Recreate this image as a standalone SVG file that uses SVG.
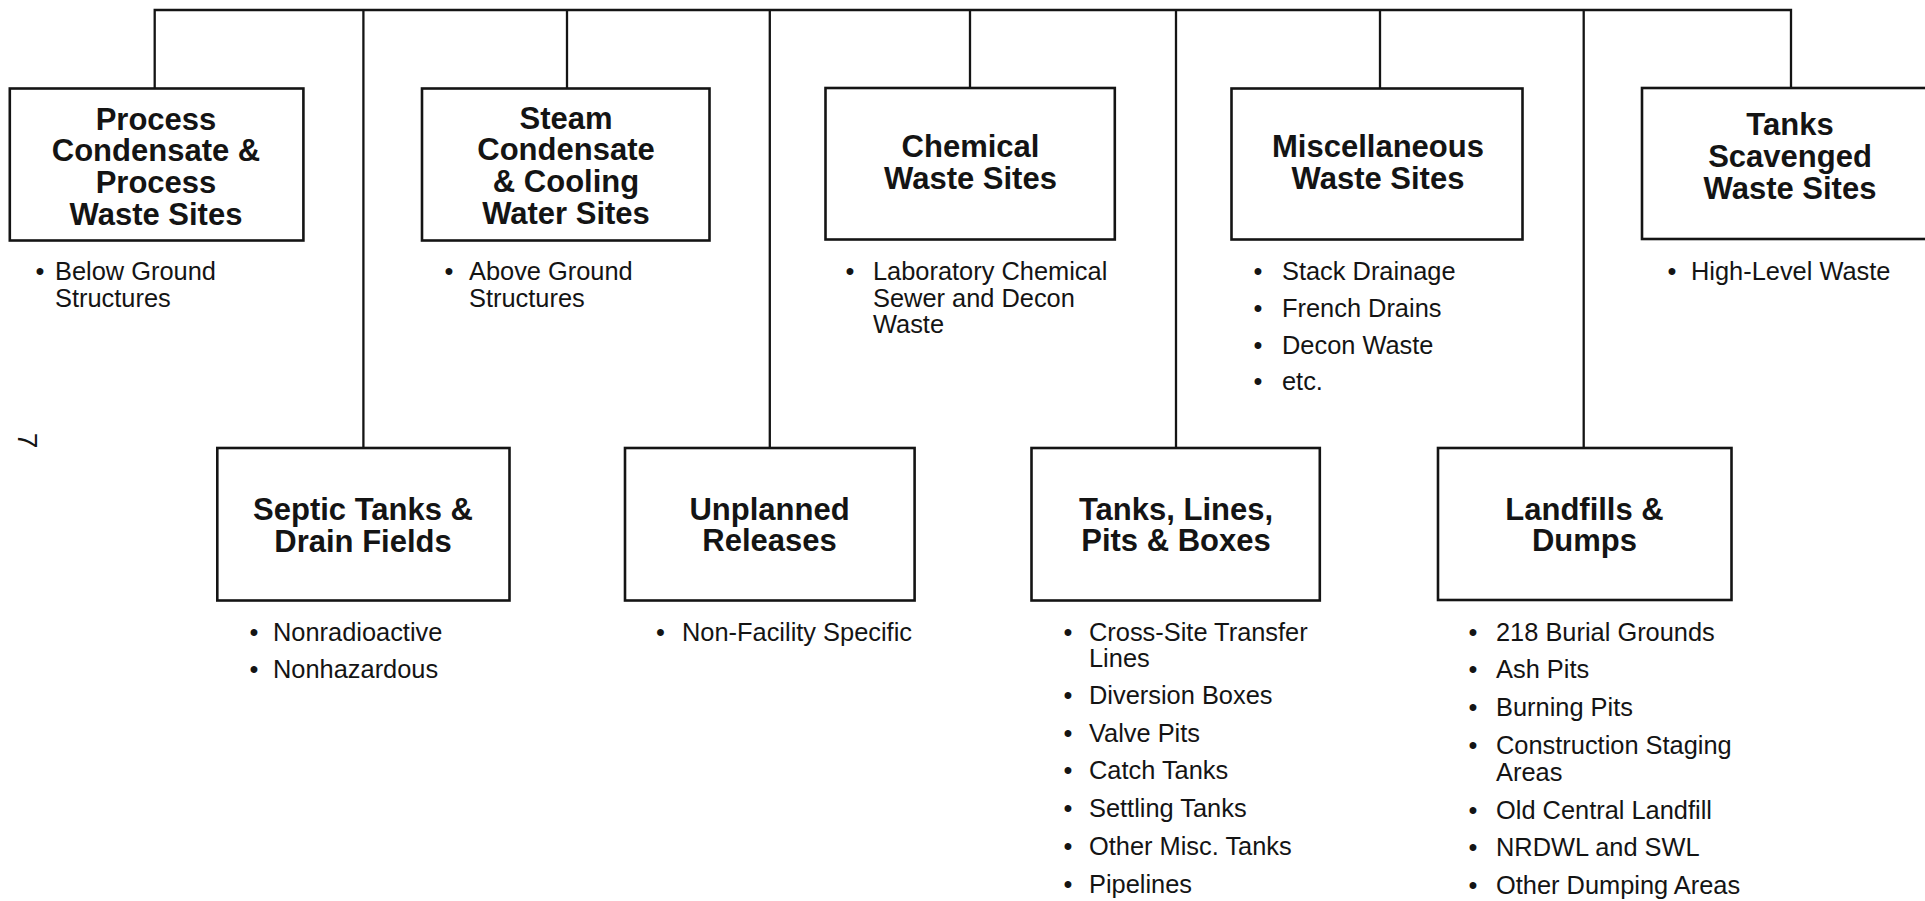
<svg xmlns="http://www.w3.org/2000/svg" width="1925" height="901" viewBox="0 0 1925 901">
<style>
.box{fill:#fff;stroke:#141414;stroke-width:2.6}
.con{fill:none;stroke:#141414;stroke-width:2.3}
.t{font-family:"Liberation Sans",Arial,Helvetica,sans-serif;font-weight:bold;font-size:31px;fill:#141414;text-anchor:middle}
.b{font-family:"Liberation Sans",Arial,Helvetica,sans-serif;font-size:25.4px;fill:#141414}
.d{font-family:"Liberation Sans",Arial,Helvetica,sans-serif;font-size:25.4px;fill:#141414;text-anchor:middle}
</style>
<rect width="1925" height="901" fill="#fff"/>
<g id="connectors">
<path class="con" d="M154.7,88.5 V10 H1791 V88"/>
<path class="con" d="M363.4,10 V448"/>
<path class="con" d="M567,10 V88.5"/>
<path class="con" d="M769.8,10 V448"/>
<path class="con" d="M970,10 V88"/>
<path class="con" d="M1176,10 V448"/>
<path class="con" d="M1380,10 V88.5"/>
<path class="con" d="M1583.7,10 V448"/>
</g>
<g id="process">
<rect class="box" x="9.8" y="88.5" width="293.6" height="152"/>
<text class="t" x="156" y="129.5">Process</text>
<text class="t" x="156" y="161">Condensate &amp;</text>
<text class="t" x="156" y="193">Process</text>
<text class="t" x="156" y="225">Waste Sites</text>
<text class="d" x="40" y="280">•</text>
<text class="b" x="55" y="280">Below Ground</text>
<text class="b" x="55" y="306.5">Structures</text>
</g>
<g id="steam">
<rect class="box" x="422" y="88.5" width="287.5" height="152"/>
<text class="t" x="566" y="128.5">Steam</text>
<text class="t" x="566" y="160">Condensate</text>
<text class="t" x="566" y="191.5">&amp; Cooling</text>
<text class="t" x="566" y="223.5">Water Sites</text>
<text class="d" x="449" y="280">•</text>
<text class="b" x="469" y="280">Above Ground</text>
<text class="b" x="469" y="306.5">Structures</text>
</g>
<g id="chemical">
<rect class="box" x="825.5" y="88" width="289.3" height="151.5"/>
<text class="t" x="970.5" y="157">Chemical</text>
<text class="t" x="970.5" y="188.5">Waste Sites</text>
<text class="d" x="850" y="280">•</text>
<text class="b" x="873" y="280">Laboratory Chemical</text>
<text class="b" x="873" y="306.5">Sewer and Decon</text>
<text class="b" x="873" y="333">Waste</text>
</g>
<g id="misc">
<rect class="box" x="1231.5" y="88.5" width="291" height="151"/>
<text class="t" x="1378" y="157">Miscellaneous</text>
<text class="t" x="1378" y="188.5">Waste Sites</text>
<text class="d" x="1258" y="280">•</text>
<text class="b" x="1282" y="280">Stack Drainage</text>
<text class="d" x="1258" y="317">•</text>
<text class="b" x="1282" y="317">French Drains</text>
<text class="d" x="1258" y="353.5">•</text>
<text class="b" x="1282" y="353.5">Decon Waste</text>
<text class="d" x="1258" y="390">•</text>
<text class="b" x="1282" y="390">etc.</text>
</g>
<g id="tanks-scavenged">
<rect class="box" x="1642" y="88" width="300" height="151"/>
<text class="t" x="1790" y="135">Tanks</text>
<text class="t" x="1790" y="166.5">Scavenged</text>
<text class="t" x="1790" y="198.5">Waste Sites</text>
<text class="d" x="1672" y="280">•</text>
<text class="b" x="1691" y="280">High-Level Waste</text>
</g>
<g id="septic">
<rect class="box" x="217.3" y="448" width="292.2" height="152.5"/>
<text class="t" x="363" y="520">Septic Tanks &amp;</text>
<text class="t" x="363" y="551.5">Drain Fields</text>
<text class="d" x="254" y="641">•</text>
<text class="b" x="273" y="641">Nonradioactive</text>
<text class="d" x="254" y="678">•</text>
<text class="b" x="273" y="678">Nonhazardous</text>
</g>
<g id="unplanned">
<rect class="box" x="625" y="448" width="289.6" height="152.5"/>
<text class="t" x="769.5" y="519.5">Unplanned</text>
<text class="t" x="769.5" y="551">Releases</text>
<text class="d" x="660.5" y="640.5">•</text>
<text class="b" x="682" y="640.5">Non-Facility Specific</text>
</g>
<g id="tanks-lines">
<rect class="box" x="1031.5" y="448" width="288.3" height="152.5"/>
<text class="t" x="1176" y="519.5">Tanks, Lines,</text>
<text class="t" x="1176" y="551">Pits &amp; Boxes</text>
<text class="d" x="1068" y="640.5">•</text>
<text class="b" x="1089" y="640.5">Cross-Site Transfer</text>
<text class="b" x="1089" y="667">Lines</text>
<text class="d" x="1068" y="704">•</text>
<text class="b" x="1089" y="704">Diversion Boxes</text>
<text class="d" x="1068" y="741.5">•</text>
<text class="b" x="1089" y="741.5">Valve Pits</text>
<text class="d" x="1068" y="779">•</text>
<text class="b" x="1089" y="779">Catch Tanks</text>
<text class="d" x="1068" y="817">•</text>
<text class="b" x="1089" y="817">Settling Tanks</text>
<text class="d" x="1068" y="855">•</text>
<text class="b" x="1089" y="855">Other Misc. Tanks</text>
<text class="d" x="1068" y="893">•</text>
<text class="b" x="1089" y="893">Pipelines</text>
</g>
<g id="landfills">
<rect class="box" x="1438" y="448" width="293.5" height="152"/>
<text class="t" x="1584.5" y="519.5">Landfills &amp;</text>
<text class="t" x="1584.5" y="551">Dumps</text>
<text class="d" x="1473" y="640.5">•</text>
<text class="b" x="1496" y="640.5">218 Burial Grounds</text>
<text class="d" x="1473" y="677.5">•</text>
<text class="b" x="1496" y="677.5">Ash Pits</text>
<text class="d" x="1473" y="715.5">•</text>
<text class="b" x="1496" y="715.5">Burning Pits</text>
<text class="d" x="1473" y="754">•</text>
<text class="b" x="1496" y="754">Construction Staging</text>
<text class="b" x="1496" y="780.5">Areas</text>
<text class="d" x="1473" y="818.5">•</text>
<text class="b" x="1496" y="818.5">Old Central Landfill</text>
<text class="d" x="1473" y="856">•</text>
<text class="b" x="1496" y="856">NRDWL and SWL</text>
<text class="d" x="1473" y="894">•</text>
<text class="b" x="1496" y="894">Other Dumping Areas</text>
</g>
<text class="d" transform="translate(18,440.5) rotate(90)" x="0" y="0" style="font-size:28px">7</text>
</svg>
